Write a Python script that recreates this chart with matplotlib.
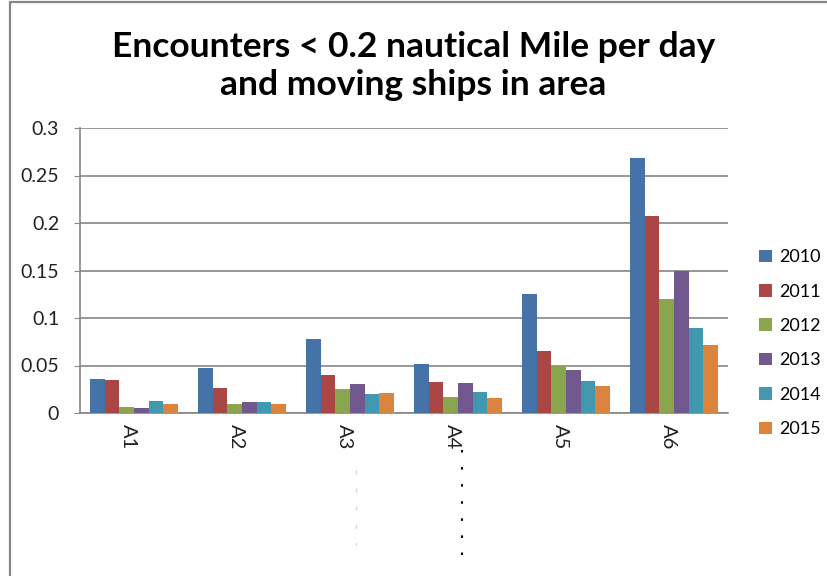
import matplotlib
matplotlib.use("Agg")
import matplotlib.pyplot as plt
from matplotlib.patches import Rectangle
from matplotlib.lines import Line2D
import numpy as np

categories = ["A1", "A2", "A3", "A4", "A5", "A6"]
years = ["2010", "2011", "2012", "2013", "2014", "2015"]
v2010 = [0.0356, 0.047, 0.078, 0.052, 0.125, 0.268]
v2011 = [0.0345, 0.026, 0.040, 0.033, 0.065, 0.207]
v2012 = [0.006, 0.0095, 0.025, 0.017, 0.049, 0.1195]
v2013 = [0.005, 0.0113, 0.031, 0.032, 0.0457, 0.149]
v2014 = [0.0123, 0.0113, 0.020, 0.0225, 0.034, 0.090]
v2015 = [0.0095, 0.0095, 0.021, 0.016, 0.028, 0.072]
series = [v2010, v2011, v2012, v2013, v2014, v2015]
colors = ["#4572A7", "#AA4643", "#89A54E", "#71588F", "#4198AF", "#DB843D"]
yticks = [0, 0.05, 0.1, 0.15, 0.2, 0.25, 0.3]
ytick_labels = ["0", "0.05", "0.1", "0.15", "0.2", "0.25", "0.3"]

plt.rcParams["font.family"] = ["Lato", "DejaVu Sans"]

fig = plt.figure(figsize=(8.28, 5.76), dpi=100)
ax = fig.add_axes([80/828, 1-413/576, (728-80)/828, (413-128)/576])

x = np.arange(len(categories))
w = 0.136
for i, (vals, c, lab) in enumerate(zip(series, colors, years)):
    ax.bar(x + (i - 2.5) * w, vals, width=w, color=c, label=lab, zorder=3)

ax.set_xlim(-0.5, 5.5)
ax.set_ylim(0, 0.3)
ax.set_yticks(yticks)
ax.set_yticklabels(ytick_labels, fontsize=14, color="#222222")
# category labels sit slightly left of the bar groups, as in the reference
ax.set_xticks(x - 0.055)
ax.set_xticklabels(categories, rotation=-90, fontsize=14.5, color="#222222")
ax.tick_params(axis="x", length=0, pad=8)
ax.tick_params(axis="y", length=4, color="#868686", pad=11)
ax.grid(axis="y", color="#868686", linewidth=1.2, zorder=0)
for s in ["top", "right"]:
    ax.spines[s].set_visible(False)
ax.spines["left"].set_color("#868686")
ax.spines["bottom"].set_color("#868686")
ax.spines["left"].set_linewidth(1.2)
ax.spines["bottom"].set_linewidth(1.2)

fig.text(0.499, 1-66/576, "Encounters < 0.2 nautical Mile per day\nand moving ships in area",
         ha="center", va="center", fontsize=25.5, fontweight="bold", linespacing=1.22)

leg = ax.legend(loc="upper left", bbox_to_anchor=(752/828, 1-242/576), bbox_transform=fig.transFigure,
                frameon=False, fontsize=13, handlelength=0.7, handleheight=0.7,
                handletextpad=0.4, labelspacing=1.02, borderaxespad=0)

fig.patches.append(Rectangle((9.5/828, -0.1), 1.2, 1.1 - 2.5/576, transform=fig.transFigure,
                             fill=False, edgecolor="#868686", linewidth=1.6))

# faint scan artifacts below the axis
fig.lines.append(Line2D([462/828, 462/828], [1-450/576, 1-555/576], transform=fig.transFigure,
                        color="black", linewidth=1.5, linestyle=(0, (1.2, 7))))
fig.lines.append(Line2D([356/828, 356/828], [1-470/576, 1-545/576], transform=fig.transFigure,
                        color="#d8d8d8", linewidth=1.0, linestyle=(0, (3, 10))))

fig.savefig("out.png", dpi=100)
